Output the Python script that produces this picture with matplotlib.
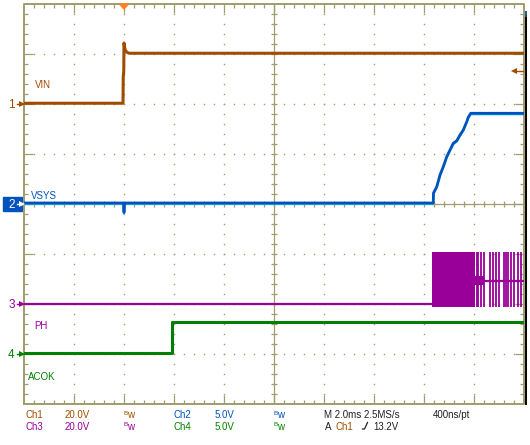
import numpy as np
import matplotlib
matplotlib.use("Agg")
import matplotlib.pyplot as plt
from matplotlib.lines import Line2D
from matplotlib.patches import Rectangle, Polygon

# ── Scope settings ───────────────────────────────────────────────────────────
T_LEFT, T_RIGHT = -4.0, 16.0                      # ms (2 ms/div, trigger at 0)
CH_SCALE  = {1: 20.0, 2: 5.0, 3: 20.0, 4: 5.0}    # V/div
CH_OFFSET = {1: 2.0, 2: 0.0, 3: -2.0, 4: -3.0}    # div from centre
TRIG_LEVEL = 13.2                                 # V on Ch1

# ── Traces (ms, V) ───────────────────────────────────────────────────────────
vin_t = [-4.0, -0.04, -0.03, -0.01, 0.0, 0.04, 0.1, 0.2, 16.0]
vin_v = [0.3, 0.3, 11.0, 13.0, 24.4, 21.8, 20.8, 20.3, 20.3]

vsys_t = [-4.0, -0.02, 0.0, 0.02, 12.37, 12.38, 12.51, 12.64, 12.77, 12.91,
          13.04, 13.17, 13.31, 13.44, 13.57, 13.71, 13.77, 13.87, 16.0]
vsys_v = [0.1, 0.1, -0.85, 0.1, 0.1, 1.1, 1.73, 2.9, 3.73, 4.73,
          5.4, 6.07, 6.33, 6.9, 7.4, 8.23, 8.67, 9.07, 9.07]

ph_t = [-4.0, 12.33]
ph_v = [0.2, 0.2]
burst_t = [12.33, 14.05]          # dense switching
burst_v = [-1.3, 20.7]            # low / high level
pulse_t = [14.1, 14.16, 14.28, 14.41, 14.65, 14.75, 14.87, 15.0, 15.2,
           15.27, 15.37, 15.48, 15.61, 15.77, 15.87]
ph_idle_t = [14.05, 16.0]
ph_idle_v = [9.3, 9.3]

acok_t = [-4.0, 1.91, 1.91, 16.0]
acok_v = [0.1, 0.1, 3.25, 3.25]

# ── Colours ──────────────────────────────────────────────────────────────────
BROWN  = "#a04c00"
BLUE   = "#0052bc"
CYAN   = "#1ec8e6"
PURPLE = "#990099"
GREEN  = "#008000"
GRID   = "#a09c6c"
ORANGE = "#ff7f27"
DARK   = "#202020"

plt.rcParams["font.family"] = ["Liberation Sans", "DejaVu Sans"]
FS = 7.0

W, H = 530, 445
def fx(x): return x / W
def fy(y): return 1 - y / H

def scr(ch, v):
    return CH_OFFSET[ch] + np.asarray(v, dtype=float) / CH_SCALE[ch]

fig = plt.figure(figsize=(W / 100, H / 100), dpi=100)
ax = fig.add_axes([fx(24), 41 / H, 500 / W, 400 / H])
ax.set_xlim(T_LEFT, T_RIGHT)
ax.set_ylim(-4, 4)
ax.axis("off")

PX_T, PX_Y = 0.04, 0.02   # one screen pixel in ms / div

# ── Graticule ────────────────────────────────────────────────────────────────
ax.plot([T_LEFT, T_RIGHT, T_RIGHT, T_LEFT, T_LEFT], [-4, -4, 4, 4, -4],
        color=GRID, lw=1.4, clip_on=False, zorder=1)
ax.axhline(0, color=GRID, lw=0.9, zorder=1)
ax.axvline(6.0, color=GRID, lw=0.9, zorder=1)

xt = np.arange(T_LEFT + 0.4, T_RIGHT - 0.01, 0.4)
xmaj = np.isclose(((xt - T_LEFT) / 2) % 1, 0) | np.isclose(((xt - T_LEFT) / 2) % 1, 1)
xl = np.where(xmaj, 9, 4) * PX_Y
ax.vlines(xt, 4 - xl, 4, color=GRID, lw=0.9, zorder=1)
ax.vlines(xt, -4, -4 + xl, color=GRID, lw=0.9, zorder=1)
ax.vlines(xt, -3 * PX_Y, 3 * PX_Y, color=GRID, lw=0.9, zorder=1)

yt = np.arange(-3.8, 3.81, 0.2)
ymaj = np.isclose(yt, np.round(yt))
yl = np.where(ymaj, 9, 4) * PX_T
ax.hlines(yt, T_LEFT, T_LEFT + yl, color=GRID, lw=0.9, zorder=1)
ax.hlines(yt, T_RIGHT - yl, T_RIGHT, color=GRID, lw=0.9, zorder=1)
ax.hlines(yt, 6.0 - 3 * PX_T, 6.0 + 3 * PX_T, color=GRID, lw=0.9, zorder=1)

grid_t = [-2, 0, 2, 4, 8, 10, 12, 14]
grid_y = [-3, -2, -1, 1, 2, 3]
dot_y = np.arange(-3.8, 3.81, 0.2)
dot_t = np.arange(T_LEFT + 0.4, T_RIGHT - 0.01, 0.4)
for g in grid_t:
    ax.plot(np.full_like(dot_y, g), dot_y, "s", ms=1.0, color=GRID, mew=0, zorder=1)
for g in grid_y:
    ax.plot(dot_t, np.full_like(dot_t, g), "s", ms=1.0, color=GRID, mew=0, zorder=1)

# ── Traces ───────────────────────────────────────────────────────────────────
ax.plot(acok_t, scr(4, acok_v), color=GREEN, lw=2.2, zorder=3)

ax.plot(ph_t, scr(3, ph_v), color=PURPLE, lw=1.6, zorder=3)
ax.fill_between(burst_t, scr(3, burst_v[0]), scr(3, burst_v[1]),
                color=PURPLE, lw=0, zorder=3)
ax.vlines(pulse_t, scr(3, burst_v[0]), scr(3, burst_v[1]),
          color=PURPLE, lw=1.3, zorder=3)
ax.plot(ph_idle_t, scr(3, ph_idle_v), color=PURPLE, lw=1.6, zorder=3)
ax.fill_between([14.05, 14.4], scr(3, 7.5), scr(3, 11.1), color=PURPLE, lw=0, zorder=3)

# cyan persistence just under the blue trace
ax.plot(vsys_t, scr(2, vsys_v) - 1.2 * PX_Y, color=CYAN, lw=1.2, zorder=4)
ax.plot(vsys_t, scr(2, vsys_v), color=BLUE, lw=2.0, zorder=4)

ax.plot(vin_t, scr(1, vin_v), color=BROWN, lw=2.2, zorder=5)

# ── Trace labels ─────────────────────────────────────────────────────────────
for x, y, s, c in [(35, 88, "VIN", BROWN), (31, 199, "VSYS", BLUE),
                   (34, 329, "PH", PURPLE), (28, 379.5, "ACOK", GREEN)]:
    fig.text(fx(x), fy(y), s, color=c, fontsize=FS, va="baseline", ha="left")

# ── Channel ground markers ───────────────────────────────────────────────────
def marker(num, y, txt_color):
    fig.text(fx(11.5), fy(y + 4.3), str(num), color=txt_color, fontsize=8.5,
             ha="center", va="baseline")
    fig.add_artist(Line2D([fx(17), fx(22)], [fy(y), fy(y)], color=txt_color,
                          lw=1.0, transform=fig.transFigure))
    fig.add_artist(Line2D([fx(22)], [fy(y)], marker=">", ms=4.5, mew=0,
                          color=txt_color, transform=fig.transFigure))

fig.add_artist(Rectangle((fx(3), fy(211)), fx(19), 14 / H, color=BLUE,
                         transform=fig.transFigure, zorder=0))
marker(1, 104, BROWN)
marker(2, 204, "white")
marker(3, 304, PURPLE)
marker(4, 354, GREEN)

# trigger position (top) and trigger level (right)
fig.add_artist(Polygon([(fx(119.5), fy(4)), (fx(128.5), fy(4)), (fx(124), fy(9))],
                       closed=True, color=ORANGE, transform=fig.transFigure))
trig_y = 204 - scr(1, TRIG_LEVEL) * 50
fig.add_artist(Line2D([fx(514), fx(523)], [fy(trig_y), fy(trig_y)], color=BROWN,
                      lw=1.0, transform=fig.transFigure))
fig.add_artist(Line2D([fx(514)], [fy(trig_y)], marker="<", ms=5, mew=0,
                      color=BROWN, transform=fig.transFigure))

# record bar on the right edge
fig.add_artist(Line2D([fx(525.5), fx(525.5)], [fy(16), fy(404)], color="black",
                      lw=1.4, transform=fig.transFigure))
fig.add_artist(Line2D([fx(525.5), fx(525.5)], [fy(12), fy(16)], color="#1a5a80",
                      lw=1.4, transform=fig.transFigure))

# ── Status readout ───────────────────────────────────────────────────────────
def txt(x, y, s, c):
    fig.text(fx(x), fy(y), s, color=c, fontsize=FS, va="baseline", ha="left")

def bw(x, y, c):
    fig.text(fx(x), fy(y - 3.2), "B", color=c, fontsize=4.6, va="baseline", ha="left")
    fig.text(fx(x + 4.3), fy(y), "w", color=c, fontsize=FS, va="baseline", ha="left")

R1, R2 = 418.3, 429.6
txt(25, R1, "Ch1", BROWN);  txt(65, R1, "20.0V", BROWN);  bw(123, R1, BROWN)
txt(174, R1, "Ch2", BLUE);  txt(215, R1, "5.0V", BLUE);   bw(273, R1, BLUE)
txt(324, R1, "M 2.0ms 2.5MS/s", DARK)
txt(433, R1, "400ns/pt", DARK)
txt(25, R2, "Ch3", PURPLE); txt(65, R2, "20.0V", PURPLE); bw(123, R2, PURPLE)
txt(174, R2, "Ch4", GREEN); txt(215, R2, "5.0V", GREEN);  bw(273, R2, GREEN)
txt(325, R2, "A", DARK)
txt(336, R2, "Ch1", BROWN)
fig.add_artist(Line2D([fx(362.5), fx(364.5), fx(367.5)], [fy(429), fy(429), fy(422.5)],
                      color=DARK, lw=0.9, transform=fig.transFigure))
txt(373, R2, "13.2V", DARK)

fig.savefig("out.png", dpi=100)
